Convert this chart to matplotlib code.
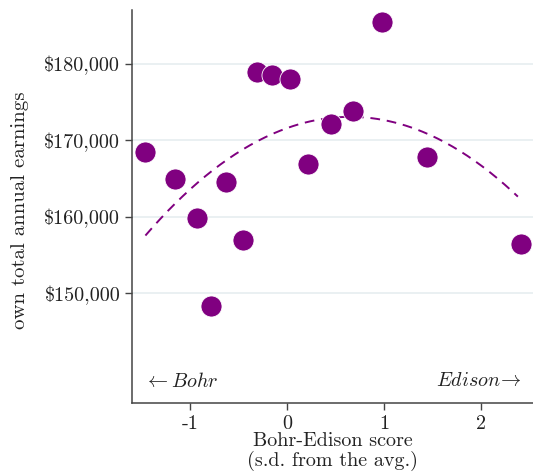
import numpy as np
import matplotlib
matplotlib.use("Agg")
import matplotlib.pyplot as plt
from matplotlib.ticker import FuncFormatter

# Bohr-Edison score vs. own total annual earnings
score = [-1.46, -1.16, -0.93, -0.63, -0.45, -0.78, -0.31, -0.16, 0.03,
         0.22, 0.45, 0.68, 0.98, 1.44, 2.41]
earnings = [168400, 165000, 159900, 164500, 157000, 148300, 178900, 178500, 178000,
            166900, 172100, 173800, 185400, 167800, 156500]

# quadratic fit (vertex form) and its drawn range
fit_peak_x = 0.65
fit_peak_y = 173050
fit_curv = 3480
fit_range = [-1.46, 2.38]

x_ticks = [-1, 0, 1, 2]
y_ticks = [150000, 160000, 170000, 180000]

plt.rcParams['font.family'] = ['cmr10', 'DejaVu Serif']
plt.rcParams['mathtext.fontset'] = 'cm'
plt.rcParams['axes.unicode_minus'] = False
plt.rcParams['axes.formatter.use_mathtext'] = False

purple = '#800080'
fs = 14.5

fig = plt.figure(figsize=(5.33, 4.75), dpi=100)
ax = fig.add_axes([0.2477, 0.1516, 0.7523, 0.8274])

xs = np.linspace(fit_range[0], fit_range[1], 200)
ax.plot(xs, fit_peak_y - fit_curv * (xs - fit_peak_x) ** 2,
        ls=(0, (5, 3.5)), color=purple, lw=1.4, zorder=2)

ax.scatter(score, earnings, s=230, color=purple, edgecolor='white', linewidth=0.6, zorder=3)

ax.set_xlim(-1.598, 2.536)
ax.set_ylim(135700, 187000)
ax.set_xticks(x_ticks)
ax.set_yticks(y_ticks)
ax.yaxis.set_major_formatter(FuncFormatter(lambda v, p: '$' + format(int(v), ',')))
ax.grid(axis='y', color='#e6eef0', lw=1.2, zorder=0)

for s in ['top', 'right']:
    ax.spines[s].set_visible(False)
for s in ['left', 'bottom']:
    ax.spines[s].set_color('#444444')
    ax.spines[s].set_linewidth(1.1)
ax.tick_params(axis='both', colors='#444444', labelcolor='#222222', labelsize=fs,
               length=5, width=1.0)

ax.set_xlabel('Bohr-Edison score\n(s.d. from the avg.)', fontsize=fs, linespacing=1.0,
              color='#222222')
ax.xaxis.set_label_coords(0.501, -0.075)
ax.set_ylabel('own total annual earnings', fontsize=15, color='#222222')
ax.yaxis.set_label_coords(-0.258, 0.49)

ax.text(0.03, 0.055, r'$\leftarrow\mathit{Bohr}$', transform=ax.transAxes,
        fontsize=fs, ha='left', va='center', color='#222222')
ax.text(0.97, 0.055, r'$\mathit{Edison}\!\rightarrow$', transform=ax.transAxes,
        fontsize=fs, ha='right', va='center', color='#222222')

fig.savefig('out.png', dpi=100)
